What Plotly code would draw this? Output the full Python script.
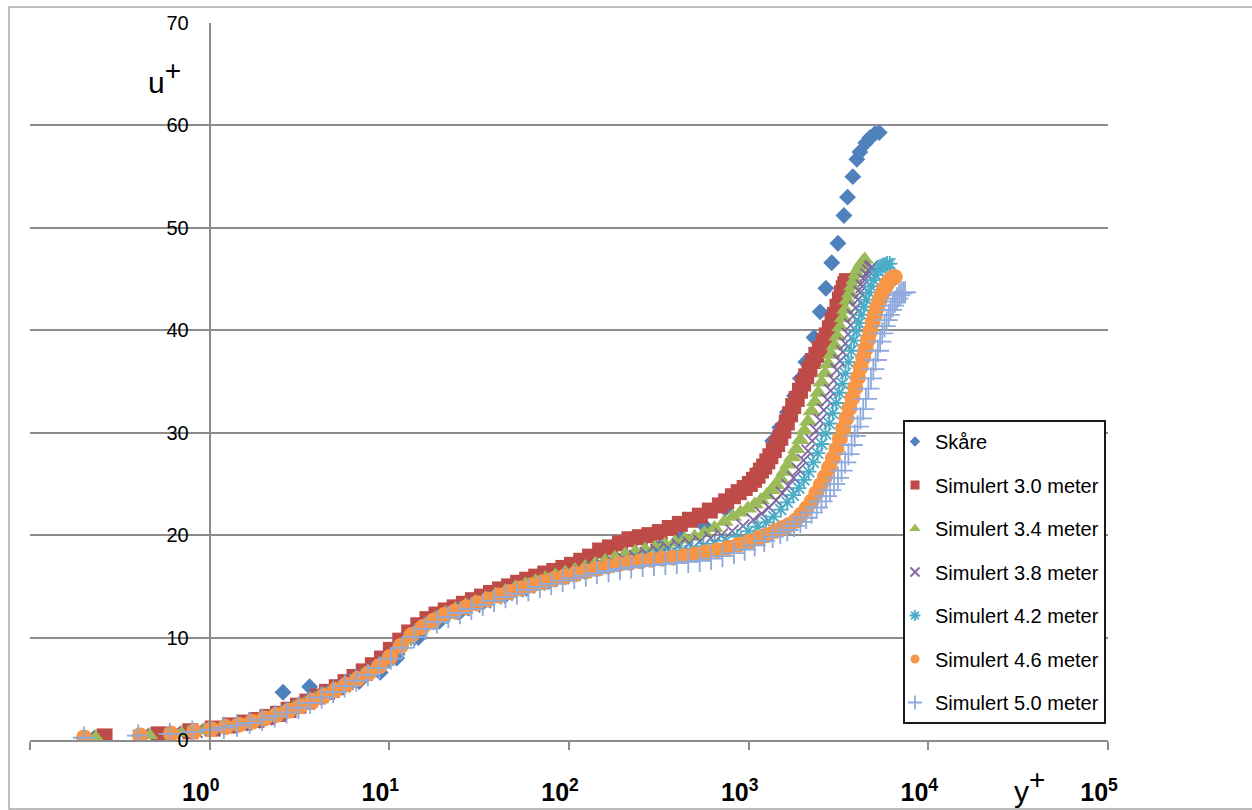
import plotly.graph_objects as go

# ---------------- data: (y+, u+) pairs ----------------
SKARE = [(2.56, 4.66), (3.6, 5.2), (5.0, 4.9), (6.8, 5.7), (8.9, 6.6), (11.0, 8.0), (14.5, 10.0),
         (19, 11.6), (25, 12.6), (33, 13.4), (44, 14.1), (58, 14.8), (77, 15.5), (100, 16.1),
         (135, 16.8), (180, 17.4), (240, 18.0), (320, 18.8), (420, 19.8), (560, 21.0), (740, 22.6),
         (950, 24.5), (1150, 26.5), (1360, 29.2), (1490, 30.5), (1640, 32.0), (1800, 33.6),
         (1940, 35.3), (2080, 36.9), (2310, 39.3), (2500, 41.8), (2690, 44.1), (2900, 46.6),
         (3140, 48.5), (3390, 51.2), (3550, 53.0), (3800, 55.0), (4000, 56.7), (4160, 57.4),
         (4490, 58.3), (4730, 58.8), (5050, 59.2), (5330, 59.3)]

SIM_3_0 = [(0.26, 0.35), (0.52, 0.55), (0.78, 0.85), (1.04, 1.12), (1.3, 1.42), (1.56, 1.7), (1.82, 1.95),
           (2.1, 2.25), (2.4, 2.55), (2.75, 2.95), (3.1, 3.35), (3.5, 3.75), (4.0, 4.25), (4.5, 4.7),
           (5.1, 5.15), (5.7, 5.65), (6.4, 6.15), (7.2, 6.7), (8.1, 7.3), (9.1, 7.95), (10.2, 8.8),
           (11.5, 9.7), (12.9, 10.5), (14.5, 11.2), (16.3, 11.8), (18.3, 12.25), (20.6, 12.65),
           (23.1, 12.95), (26.0, 13.3), (29.2, 13.65), (32.8, 14.0), (36.8, 14.35), (41.3, 14.7),
           (46.4, 15.0), (52.1, 15.35), (58.5, 15.65), (65.7, 15.95), (73.8, 16.25), (82.8, 16.5),
           (93, 16.8), (104, 17.1), (117, 17.5), (131, 17.9), (149, 18.5), (169, 18.8), (192, 19.2),
           (217, 19.6), (248, 19.8), (280, 20.0), (320, 20.3), (364, 20.7), (414, 21.1), (471, 21.5),
           (535, 21.9), (608, 22.4), (692, 22.9), (750, 23.3), (817, 23.8), (880, 24.2), (950, 24.6),
           (1015, 25.0), (1070, 25.4), (1120, 25.8), (1170, 26.3), (1220, 26.7), (1270, 27.2),
           (1320, 27.7), (1380, 28.3), (1440, 28.9), (1500, 29.5), (1560, 30.2), (1630, 31.0),
           (1700, 31.8), (1770, 32.6), (1850, 33.3), (1930, 34.1), (2010, 34.8), (2090, 35.5),
           (2180, 36.2), (2280, 37.0), (2380, 37.6), (2490, 38.2), (2620, 38.9), (2720, 39.5),
           (2830, 40.2), (2930, 40.9), (3020, 41.5), (3120, 42.3), (3220, 43.0), (3300, 43.6),
           (3380, 44.1), (3450, 44.5), (3520, 44.8)]

SIM_3_4 = [(0.23, 0.3), (0.46, 0.5), (0.69, 0.72), (0.92, 0.95), (1.15, 1.2), (1.38, 1.43), (1.62, 1.66),
           (1.88, 1.92), (2.17, 2.22), (2.5, 2.6), (2.88, 3.0), (3.3, 3.42), (3.8, 3.95), (4.35, 4.45),
           (5.0, 4.95), (5.7, 5.45), (6.5, 6.0), (7.4, 6.55), (8.4, 7.15), (9.5, 7.85), (10.8, 8.75),
           (12.3, 9.75), (14.0, 10.65), (15.9, 11.35), (18.1, 11.95), (20.6, 12.45), (23.4, 12.8),
           (26.6, 13.15), (30.2, 13.5), (34.3, 13.85), (39.0, 14.2), (44.3, 14.55), (50.3, 14.9),
           (57.2, 15.2), (65, 15.5), (73.8, 15.8), (83.9, 16.05), (95.3, 16.35), (108, 16.6),
           (123, 16.9), (140, 17.2), (159, 17.5), (180, 17.8), (205, 18.1), (233, 18.35), (265, 18.6),
           (301, 18.8), (342, 19.05), (388, 19.3), (441, 19.6), (500, 19.85), (568, 20.2), (645, 20.7),
           (733, 21.3), (817, 21.8), (900, 22.2), (990, 22.6), (1080, 23.0), (1170, 23.4), (1260, 23.9),
           (1340, 24.4), (1420, 24.9), (1500, 25.5), (1580, 26.2), (1660, 26.9), (1750, 27.6),
           (1840, 28.4), (1940, 29.3), (2040, 30.2), (2140, 31.1), (2240, 32.1), (2340, 33.0),
           (2440, 33.9), (2550, 34.9), (2660, 35.8), (2770, 36.7), (2890, 37.6), (3010, 38.5),
           (3120, 39.4), (3230, 40.3), (3340, 41.2), (3440, 42.0), (3550, 42.9), (3660, 43.6),
           (3770, 44.3), (3880, 44.9), (3990, 45.5), (4100, 46.0), (4210, 46.4), (4320, 46.7),
           (4430, 46.9)]

SIM_3_8 = [(0.21, 0.25), (0.42, 0.45), (0.63, 0.65), (0.84, 0.85), (1.05, 1.05), (1.27, 1.3), (1.5, 1.53),
           (1.76, 1.78), (2.05, 2.1), (2.38, 2.45), (2.75, 2.85), (3.18, 3.3), (3.66, 3.8), (4.2, 4.25),
           (4.85, 4.75), (5.6, 5.3), (6.45, 5.9), (7.4, 6.4), (8.5, 7.05), (9.75, 7.9), (11.2, 8.9),
           (12.9, 9.9), (14.8, 10.7), (17.0, 11.4), (19.5, 12.0), (22.4, 12.4), (25.7, 12.75),
           (29.5, 13.1), (33.9, 13.5), (38.9, 13.9), (44.7, 14.25), (51.3, 14.6), (58.9, 14.95),
           (67.6, 15.25), (77.6, 15.55), (89.1, 15.8), (102, 16.1), (117, 16.4), (135, 16.7),
           (155, 17.0), (178, 17.3), (204, 17.6), (234, 17.9), (269, 18.2), (309, 18.5), (355, 18.75),
           (407, 19.0), (468, 19.2), (535, 19.4), (615, 19.7), (705, 20.0), (810, 20.4), (930, 20.9),
           (1060, 21.5), (1180, 22.1), (1300, 22.7), (1420, 23.4), (1540, 24.1), (1660, 24.8),
           (1780, 25.6), (1900, 26.4), (2020, 27.3), (2140, 28.2), (2260, 29.2), (2380, 30.2),
           (2500, 31.2), (2620, 32.2), (2740, 33.2), (2860, 34.1), (2980, 35.1), (3100, 36.1),
           (3220, 37.0), (3340, 37.9), (3460, 38.7), (3580, 39.6), (3700, 40.5), (3820, 41.4),
           (3940, 42.2), (4060, 43.0), (4180, 43.7), (4300, 44.3), (4420, 44.9), (4540, 45.4),
           (4660, 45.8), (4780, 46.1), (4850, 46.2)]

SIM_4_2 = [(0.2, 0.25), (0.4, 0.42), (0.6, 0.62), (0.8, 0.82), (1.0, 1.02), (1.21, 1.25), (1.44, 1.47),
           (1.7, 1.73), (2.0, 2.05), (2.33, 2.4), (2.7, 2.78), (3.12, 3.25), (3.6, 3.75), (4.15, 4.2),
           (4.8, 4.7), (5.55, 5.25), (6.4, 5.85), (7.4, 6.4), (8.55, 7.0), (9.85, 7.85), (11.4, 8.9),
           (13.2, 9.95), (15.2, 10.8), (17.6, 11.5), (20.3, 12.1), (23.5, 12.5), (27.1, 12.9),
           (31.3, 13.3), (36.2, 13.7), (41.8, 14.05), (48.3, 14.45), (55.8, 14.8), (64.4, 15.1),
           (74.4, 15.4), (86, 15.7), (99.3, 15.95), (115, 16.25), (133, 16.55), (153, 16.8),
           (177, 17.05), (204, 17.3), (236, 17.55), (273, 17.8), (315, 18.05), (364, 18.3),
           (420, 18.5), (485, 18.7), (560, 18.9), (647, 19.15), (747, 19.45), (862, 19.85),
           (995, 20.4), (1120, 20.8), (1250, 21.25), (1380, 21.8), (1510, 22.5), (1640, 23.2),
           (1770, 23.9), (1900, 24.6), (2030, 25.4), (2160, 26.2), (2290, 27.1), (2420, 28.0),
           (2550, 28.9), (2680, 29.9), (2810, 30.9), (2940, 31.9), (3070, 32.9), (3200, 33.9),
           (3330, 34.8), (3460, 35.8), (3590, 36.9), (3720, 38.0), (3850, 39.0), (3980, 39.9),
           (4110, 40.7), (4240, 41.5), (4380, 42.3), (4520, 43.0), (4660, 43.7), (4800, 44.3),
           (4950, 44.9), (5100, 45.4), (5260, 45.8), (5420, 46.1), (5580, 46.3), (5740, 46.4),
           (5900, 46.5), (6100, 46.5)]

SIM_4_6 = [(0.2, 0.25), (0.41, 0.45), (0.61, 0.63), (0.82, 0.84), (1.02, 1.05), (1.23, 1.27), (1.46, 1.5),
           (1.72, 1.77), (2.02, 2.1), (2.36, 2.45), (2.75, 2.85), (3.2, 3.3), (3.72, 3.8), (4.3, 4.3),
           (4.98, 4.85), (5.75, 5.4), (6.65, 5.95), (7.65, 6.5), (8.8, 7.2), (10.1, 8.1), (11.6, 9.2),
           (13.3, 10.25), (15.3, 11.0), (17.6, 11.65), (20.2, 12.2), (23.2, 12.55), (26.7, 12.95),
           (30.7, 13.35), (35.3, 13.7), (40.6, 14.1), (46.7, 14.45), (53.7, 14.8), (61.8, 15.1),
           (71.1, 15.4), (81.8, 15.7), (94.1, 15.95), (108, 16.2), (124, 16.45), (143, 16.7),
           (164, 16.95), (189, 17.15), (217, 17.3), (250, 17.45), (287, 17.6), (330, 17.7),
           (380, 17.8), (437, 17.95), (502, 18.1), (577, 18.3), (664, 18.5), (764, 18.75),
           (879, 19.05), (1000, 19.35), (1130, 19.7), (1260, 20.0), (1400, 20.4), (1540, 20.7),
           (1680, 21.0), (1820, 21.4), (1960, 22.0), (2100, 22.6), (2240, 23.3), (2380, 24.1),
           (2520, 24.9), (2660, 25.7), (2800, 26.6), (2940, 27.5), (3080, 28.4), (3220, 29.4),
           (3360, 30.4), (3500, 31.4), (3640, 32.4), (3780, 33.4), (3920, 34.4), (4060, 35.4),
           (4200, 36.4), (4340, 37.3), (4480, 38.2), (4620, 39.1), (4760, 39.9), (4900, 40.8),
           (5040, 41.5), (5180, 42.2), (5330, 42.8), (5480, 43.4), (5640, 43.9), (5800, 44.3),
           (5970, 44.7), (6140, 44.9), (6320, 45.1), (6500, 45.2)]

SIM_5_0 = [(0.2, 0.22), (0.4, 0.42), (0.6, 0.6), (0.8, 0.8), (1.0, 1.0), (1.2, 1.2), (1.42, 1.42),
           (1.67, 1.67), (1.96, 1.98), (2.3, 2.32), (2.68, 2.7), (3.12, 3.15), (3.62, 3.62), (4.2, 4.15),
           (4.87, 4.7), (5.65, 5.25), (6.55, 5.8), (7.6, 6.35), (8.8, 7.05), (10.2, 7.95), (11.8, 9.0),
           (13.7, 10.05), (15.9, 10.85), (18.4, 11.5), (21.3, 12.0), (24.7, 12.4), (28.6, 12.8),
           (33.1, 13.2), (38.3, 13.6), (44.3, 13.95), (51.3, 14.3), (59.4, 14.65), (68.8, 14.95),
           (79.6, 15.25), (92.2, 15.55), (107, 15.8), (124, 16.05), (143, 16.3), (166, 16.5),
           (192, 16.7), (222, 16.85), (257, 17.0), (297, 17.1), (344, 17.2), (398, 17.3), (461, 17.4),
           (534, 17.5), (618, 17.7), (715, 17.95), (828, 18.25), (950, 18.6), (1080, 19.0),
           (1220, 19.45), (1360, 19.85), (1500, 20.2), (1640, 20.5), (1790, 20.9), (1940, 21.3),
           (2090, 21.7), (2240, 22.2), (2390, 22.7), (2540, 23.3), (2690, 23.8), (2840, 24.4),
           (2990, 25.0), (3140, 25.6), (3290, 26.3), (3440, 27.1), (3590, 27.9), (3740, 28.8),
           (3890, 29.7), (4040, 30.6), (4190, 31.4), (4340, 32.3), (4490, 33.3), (4640, 34.3),
           (4790, 35.3), (4940, 36.2), (5090, 37.1), (5240, 38.0), (5390, 38.9), (5540, 39.7),
           (5700, 40.4), (5860, 41.0), (6020, 41.5), (6180, 42.0), (6350, 42.4), (6520, 42.8),
           (6700, 43.1), (6880, 43.4), (7060, 43.6), (7240, 43.7), (7420, 43.7)]

SERIES_NAMES = ["Skåre", "Simulert 3.0 meter", "Simulert 3.4 meter", "Simulert 3.8 meter",
                "Simulert 4.2 meter", "Simulert 4.6 meter", "Simulert 5.0 meter"]
SERIES_DATA = [SKARE, SIM_3_0, SIM_3_4, SIM_3_8, SIM_4_2, SIM_4_6, SIM_5_0]

X_TICK_VALS = [0.1, 1, 10, 100, 1000, 10000, 100000]
X_TICK_TEXT = ["", "<b>10<sup>0</sup></b>", "<b>10<sup>1</sup></b>", "<b>10<sup>2</sup></b>",
               "<b>10<sup>3</sup></b>", "<b>10<sup>4</sup></b>", "<b>10<sup>5</sup></b>"]
Y_TICK_VALS = [0, 10, 20, 30, 40, 50, 60, 70]

# ---------------- styles ----------------
FONT = "Liberation Sans, Arial, sans-serif"
STYLES = [
    dict(symbol="diamond", color="#4F81BD", size=13, lsize=8),
    dict(symbol="square", color="#BE4B48", size=16, lsize=9),
    dict(symbol="triangle-up", color="#9BBB59", size=16, lsize=10),
    dict(symbol="x-thin", color="#8064A2", size=13, lsize=9, open=True),
    dict(symbol="asterisk", color="#4BACC6", size=13, lsize=9, open=True),
    dict(symbol="circle", color="#F79646", size=16, lsize=9),
    dict(symbol="cross-thin", color="#8EA9DB", size=16, lsize=10, open=True),
]


def marker(st, size):
    if st.get("open"):
        return dict(symbol=st["symbol"], size=size, color=st["color"],
                    line=dict(color=st["color"], width=1.8))
    return dict(symbol=st["symbol"], size=size, color=st["color"], line=dict(width=0))


fig = go.Figure()
for name, data, st in zip(SERIES_NAMES, SERIES_DATA, STYLES):
    xs = [p[0] for p in data]
    ys = [p[1] for p in data]
    fig.add_trace(go.Scatter(x=xs, y=ys, mode="markers", name=name, showlegend=False,
                             marker=marker(st, st["size"]), hoverinfo="x+y+name"))
# legend entries (smaller symbols, as in the reference)
for name, st in zip(SERIES_NAMES, STYLES):
    fig.add_trace(go.Scatter(x=[None], y=[None], mode="markers", name=name, legendgroup=name,
                             showlegend=True, marker=marker(st, st["lsize"])))

L, R, T, B = 30, 144, 23, 70
W, H = 1252, 810
pw, ph = W - L - R, H - T - B


def px_x(px):
    return (px - L) / pw


def px_y(py):
    return (H - B - py) / ph


GRID = "#8C8C8C"
PLUS = "<sup><span style='font-size:28px'>+</span></sup>"
fig.update_layout(
    width=W, height=H,
    margin=dict(l=L, r=R, t=T, b=B, pad=0, autoexpand=False),
    paper_bgcolor="white", plot_bgcolor="white",
    font=dict(family=FONT, color="black"),
    showlegend=True,
    legend=dict(x=px_x(903), y=px_y(420), xanchor="left", yanchor="top",
                bgcolor="white", bordercolor="#1a1a1a", borderwidth=2,
                font=dict(family=FONT, size=20, color="black"),
                tracegroupgap=14.5, itemsizing="trace", indentation=-10),
    xaxis=dict(type="log", range=[-1, 5], showgrid=False, zeroline=False, automargin=False,
               showline=True, linecolor=GRID, linewidth=2,
               ticks="outside", ticklen=8, tickwidth=2, tickcolor=GRID,
               tickmode="array", tickvals=X_TICK_VALS, ticktext=X_TICK_TEXT,
               tickfont=dict(family=FONT, size=25, color="black"),
               ticklabelstandoff=21, ticklabelshift=-9),
    yaxis=dict(range=[0, 70], anchor="free", position=1 / 6, automargin=False,
               showgrid=True, gridcolor=GRID, gridwidth=1.5, zeroline=False,
               showline=True, linecolor=GRID, linewidth=2, ticks="",
               tickmode="array", tickvals=Y_TICK_VALS,
               tickfont=dict(family=FONT, size=20, color="black"),
               ticklabelstandoff=16),
    annotations=[
        dict(text="u" + PLUS, xref="paper", yref="paper", x=px_x(146), y=px_y(77),
             xanchor="left", yanchor="middle",
             showarrow=False, font=dict(family=FONT, size=30, color="black")),
        dict(text="y" + PLUS, xref="paper", yref="paper", x=px_x(1012), y=px_y(786),
             xanchor="left", yanchor="middle",
             showarrow=False, font=dict(family=FONT, size=30, color="black")),
    ],
    shapes=[dict(type="rect", xref="paper", yref="paper", x0=px_x(9), y0=px_y(809),
                 x1=px_x(1265), y1=px_y(7), line=dict(color="#A6A6A6", width=1.5),
                 fillcolor="rgba(0,0,0,0)", layer="below")],
)

fig.write_html("out.html")
